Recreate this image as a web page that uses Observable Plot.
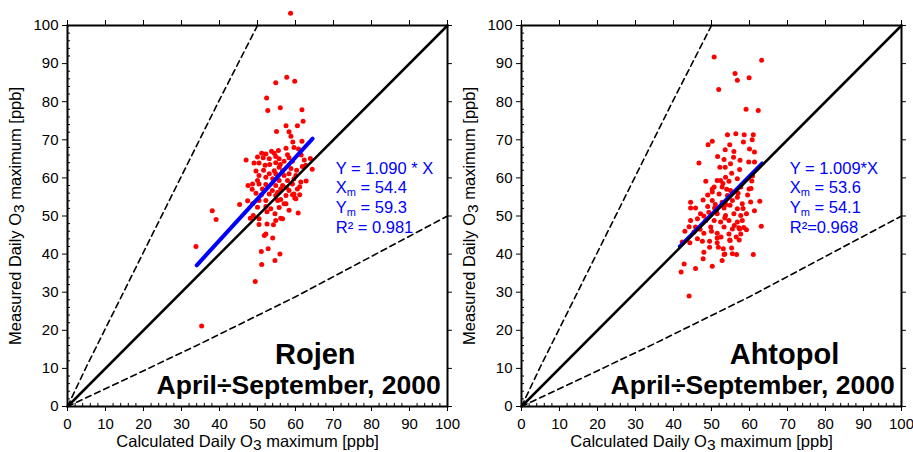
<!DOCTYPE html>
<html><head><meta charset="utf-8">
<script src="https://cdn.jsdelivr.net/npm/d3@7"></script>
<script src="https://cdn.jsdelivr.net/npm/@observablehq/plot@0.6"></script>
<style>
html,body{margin:0;padding:0;background:#fff;}
#wrap{display:flex;width:913px;height:452px;overflow:hidden;background:#fff;}
#wrap svg{overflow:visible;background:none;flex:none;}
</style></head><body><div id="wrap"></div>
<script>
// ---------- data ----------
const majorTicks = [0,10,20,30,40,50,60,70,80,90,100];
const minorTicks = [2,4,6,8,12,14,16,18,22,24,26,28,32,34,36,38,42,44,46,48,52,54,56,58,62,64,66,68,72,74,76,78,82,84,86,88,92,94,96,98];

// envelope lines (factor of 2)
const upperX = [0, 5, 15, 30, 40, 50];
const upperY = [0, 10.5, 30.5, 60.5, 80.5, 100];
const lowerX = [0, 15, 35, 60, 100];
const lowerY = [0, 7, 16.5, 28.8, 50];

// Rojen: calculated (x) vs measured (y)
const rojenCalc = [58.7,54.8,57.7,59.8,52.4,52.7,56.0,61.7,62.0,57.5,60.5,55.0,58.3,58.8,59.3,61.7,57.5,59.6,60.8,47.0,49.1,33.8,38.1,39.1,35.3,49.4,51.1,51.0,52.8,54.6,55.9,54.0,51.8,45.3,47.4,48.1,48.9,50.4,52.5,54.2,54.8,56.1,54.6,52.5,57.5,60.7,56.1,59.2,59.8,61.1,62.8,64.4,63.9,61.8,61.1,
51.1,52.2,54.4,54.8,50.0,51.5,53.1,55.7,57.9,58.3,57.0,59.2,54.8,53.2,52.0,50.4,62.3,62.7,55.7,56.6,54.4,53.1,54.8,57.0,58.3,60.1,50.4,52.2,54.0,55.7,57.9,59.6,50.0,48.7,50.4,52.2,54.8,56.6,59.2,61.4,51.3,53.9,56.1,58.3,60.5,53.1,54.8,57.5,59.6,60.1,50.4,52.2,55.3,48.7,50.0,52.2,53.5,55.7,57.0,58.3,50.4,56.6,52.2,
47.5,48.6,49.6,51.0,56.0,58.8,60.3,61.5,53.7,55.5,49.6,51.6,57.6,55.3];
const rojenMeas = [103.2,85.0,86.4,85.4,81.0,77.7,78.4,77.9,74.9,73.7,73.7,72.2,72.1,70.9,69.4,69.6,67.8,68.0,67.6,64.7,63.9,42.0,51.4,49.1,21.1,32.8,37.3,40.7,41.4,38.3,40.0,44.2,44.9,53.0,54.0,49.4,50.1,47.8,47.9,47.7,48.8,49.4,50.6,51.1,53.2,50.8,54.3,55.6,54.7,55.6,59.2,62.3,65.1,63.0,57.7,
66.5,66.3,66.5,65.6,65.5,65.3,65.0,65.0,66.1,65.3,64.4,64.4,64.0,63.5,63.3,63.9,64.7,63.3,62.8,61.9,61.9,61.1,61.1,60.6,61.1,60.6,60.6,60.2,59.8,59.3,59.3,59.8,59.3,58.4,58.4,58.3,58.0,58.0,58.4,58.9,57.1,56.7,57.1,56.7,57.1,55.8,55.4,55.4,55.8,54.5,54.1,54.1,54.1,53.2,52.3,52.5,51.9,52.2,53.2,51.5,49.3,49.3,45.3,
58.0,57.0,56.0,55.5,63.5,62.5,62.0,66.0,67.0,67.2,61.8,62.0,57.5,56.2];

// Ahtopol: calculated (x) vs measured (y)
const ahtopolCalc = [50.7,63.2,56.2,56.8,59.9,51.9,59.1,62.3,54.2,56.4,58.6,61.0,50.2,49.1,54.8,58.4,60.7,53.6,55.9,60.0,51.6,55.8,53.3,46.7,57.5,59.8,61.3,52.2,53.6,57.4,61.3,48.5,50.2,62.7,63.1,61.0,44.1,42.0,42.8,45.8,50.2,52.8,47.8,48.0,49.5,53.5,55.5,56.6,55.3,57.3,54.8,59.2,57.4,60.6,60.4,60.3,61.3,
55.0,51.5,52.4,53.7,54.6,56.8,50.7,52.8,55.0,57.7,59.9,50.2,52.0,54.2,56.8,47.8,50.2,52.8,55.5,58.1,44.5,44.5,45.8,50.8,53.3,54.9,56.8,47.1,49.3,51.5,53.7,55.9,57.7,59.2,44.5,46.3,48.5,50.7,52.4,54.6,56.8,58.1,44.1,45.8,49.8,53.3,55.5,57.2,45.4,48.0,51.5,54.6,57.7,
44.3,46.3,47.6,49.5,51.5,51.5,51.8,54.9,53.1,53.3,42.3,43.0,
53.0,54.0,51.0,49.0,48.0,53.5,56.0,58.5,50.0,47.0,52.5,56.5,58.3,59.5,60.8,55.3,57.0,53.8,51.3,49.0];
const ahtopolMeas = [91.7,90.9,87.4,85.6,86.3,83.2,78.0,77.7,71.3,71.6,71.3,71.3,69.6,68.7,68.7,69.4,70.0,67.4,66.9,67.6,65.6,65.4,64.8,63.9,64.6,64.2,64.2,62.8,62.8,62.2,66.8,59.1,57.1,53.9,47.3,39.9,29.0,35.3,37.4,36.2,36.8,38.3,38.8,40.5,41.8,40.0,40.1,39.9,41.6,43.7,43.7,46.4,46.6,59.2,57.2,53.7,51.4,
63.7,59.3,59.3,60.2,59.1,59.8,57.6,57.6,56.7,57.6,57.1,56.3,55.8,55.4,54.9,54.2,54.1,53.6,54.1,53.2,53.6,52.1,52.1,52.1,52.1,52.8,51.9,50.6,51.0,50.6,50.1,50.6,50.1,50.6,48.8,49.3,48.8,48.8,48.4,48.8,48.4,48.8,47.2,47.1,47.1,47.1,46.6,46.9,45.8,45.5,45.5,45.3,45.3,
43.0,44.0,43.4,43.4,44.2,43.0,41.8,43.6,41.4,39.9,43.2,46.0,
58.5,57.0,53.0,52.5,50.0,49.5,47.5,47.0,46.0,46.5,44.5,44.5,52.0,55.5,60.5,61.2,56.0,53.0,51.5,55.5];

const rojenFit = {slope: 1.090, xStart: 34.0, xEnd: 64.5};
const ahtopolFit = {slope: 1.009, xStart: 41.6, xEnd: 63.3};

const rojenStats = ["Y = 1.090 * X", "X_m = 54.4", "Y_m = 59.3", "R\u00B2 = 0.981"];
const ahtopolStats = ["Y = 1.009*X", "X_m = 53.6", "Y_m = 54.1", "R\u00B2=0.968"];

const xLabel = "Calculated Daily O~3 maximum [ppb]";
const yLabel = "Measured Daily O~3 maximum [ppb]";
const period = "April\u00F7September, 2000";

// ---------- drawing ----------
const FONT = "'Liberation Sans', Arial, Helvetica, sans-serif";
const NS = "http://www.w3.org/2000/svg";

function subscripts(svg) {
  svg.querySelectorAll("text").forEach(t => {
    const s = t.textContent;
    const m = s.match(/^(.*?)([_~])(\w)(.*)$/);
    if (!m) return;
    const [, before, kind, sub, after] = m;
    t.textContent = "";
    const a = document.createElementNS(NS, "tspan"); a.textContent = before; t.appendChild(a);
    const b = document.createElementNS(NS, "tspan"); b.textContent = sub;
    const shift = kind === "_" ? 3 : 3;
    b.setAttribute("dy", shift);
    b.setAttribute("font-size", kind === "_" ? "11px" : "15.5px");
    t.appendChild(b);
    const c = document.createElementNS(NS, "tspan"); c.textContent = after; c.setAttribute("dy", -shift); t.appendChild(c);
  });
}

function panel({calc, meas, fit, stats, station, titleX, width, marginLeft, marginRight, fitWidth}) {
  const pts = calc.map((x, i) => ({x, y: meas[i]}));
  const upper = upperX.map((x, i) => ({x, y: upperY[i]}));
  const lower = lowerX.map((x, i) => ({x, y: lowerY[i]}));
  const fitPts = [fit.xStart, fit.xEnd].map(x => ({x, y: fit.slope * x}));
  const diag = [{x: 0, y: 0}, {x: 100, y: 100}];
  const svg = Plot.plot({
    width, height: 452,
    marginLeft, marginRight, marginTop: 25, marginBottom: 46,
    style: {fontFamily: FONT, fontSize: "15px", color: "black", background: "none", overflow: "visible"},
    x: {domain: [0, 100], ticks: majorTicks, tickSize: 5, tickPadding: 7, label: null, tickFormat: d3.format("d")},
    y: {domain: [0, 100], ticks: majorTicks, tickSize: 5, tickPadding: 4, label: null, tickFormat: d3.format("d")},
    marks: [
      Plot.ruleX(minorTicks, {x: d => d, y1: 0, y2: 0.8, stroke: "black", strokeWidth: 1}),
      Plot.ruleY(minorTicks, {y: d => d, x1: 0, x2: 0.8, stroke: "black", strokeWidth: 1}),
      Plot.ruleX(majorTicks, {x: d => d, y1: 100, y2: 101.3, stroke: "black", strokeWidth: 1}),
      Plot.ruleY(majorTicks, {y: d => d, x1: 100, x2: 101.3, stroke: "black", strokeWidth: 1}),
      Plot.line(upper, {x: "x", y: "y", stroke: "black", strokeWidth: 1.6, strokeDasharray: "6,4"}),
      Plot.line(lower, {x: "x", y: "y", stroke: "black", strokeWidth: 1.6, strokeDasharray: "6,4"}),
      Plot.dot(pts, {x: "x", y: "y", r: 2.5, fill: "#ff0000", stroke: null}),
      Plot.line(fitPts, {x: "x", y: "y", stroke: "#0000ff", strokeWidth: fitWidth}),
      Plot.line(diag, {x: "x", y: "y", stroke: "black", strokeWidth: 2.5}),
      Plot.frame({stroke: "black", strokeWidth: 2}),
      Plot.text(stats, {text: d => d, x: 70.6, y: (d, i) => 62.5 - i * 5.2, textAnchor: "start", fill: "#0000ff", fontSize: 16.5}),
      Plot.text([station], {text: d => d, x: titleX, y: 13.7, fontSize: 29, fontWeight: "bold", fill: "black"}),
      Plot.text([period], {text: d => d, x: 98.2, y: 5.6, textAnchor: "end", fontSize: 26.5, fontWeight: "bold", fill: "black"}),
      Plot.text([xLabel], {text: d => d, x: 47.4, frameAnchor: "bottom", dy: 40, textAnchor: "middle", fontSize: 16.5, fill: "black"}),
      Plot.text([yLabel], {text: d => d, frameAnchor: "left", dx: -52, rotate: -90, textAnchor: "middle", fontSize: 16.5, fill: "black"})
    ]
  });
  subscripts(svg);
  return svg;
}

const wrap = document.getElementById("wrap");
wrap.appendChild(panel({calc: rojenCalc, meas: rojenMeas, fit: rojenFit, stats: rojenStats, station: "Rojen", titleX: 65.2, width: 456, marginLeft: 67, marginRight: 9, fitWidth: 4}));
wrap.appendChild(panel({calc: ahtopolCalc, meas: ahtopolMeas, fit: ahtopolFit, stats: ahtopolStats, station: "Ahtopol", titleX: 69.2, width: 457, marginLeft: 65, marginRight: 12, fitWidth: 3.5}));
</script>
</body></html>
